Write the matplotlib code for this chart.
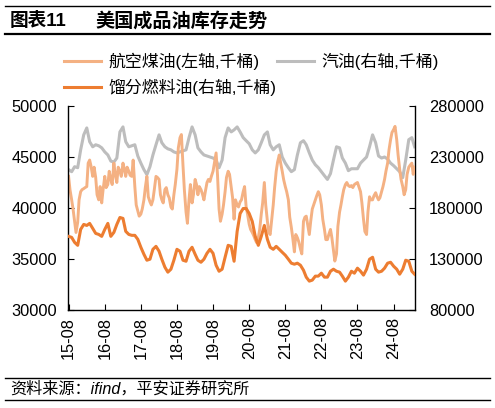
import matplotlib
matplotlib.use("Agg")
import matplotlib.pyplot as plt
import matplotlib.dates as mdates
from matplotlib.lines import Line2D
import pandas as pd

plt.rcParams['font.family'] = ['Liberation Sans', 'Noto Sans CJK SC', 'DejaVu Sans']

# jet fuel, semi-monthly readings from 2015-08 (thousand barrels, left axis, in thousands)
jet_fuel = [43.1, 41.8, 40.8, 39.9, 38.7, 37.6, 38.6, 40.8, 41.6, 41.8, 41.9, 42.0, 42.1, 44.4,
            44.7, 44.1, 43.1, 44.0, 43.0, 41.3, 40.8,
            42.1, 40.5, 41.8, 43.1, 42.0, 42.3, 43.6, 42.8, 42.3, 44.4, 43.3, 42.5, 44.0, 43.6,
            43.1, 44.4, 43.8, 43.1, 44.0, 43.6,
            43.2, 43.1, 44.7, 42.1, 40.3, 39.7, 39.2, 39.4, 39.9, 40.8, 42.0, 43.1, 41.1, 40.6,
            40.3, 40.8, 41.8, 43.1, 43.0, 42.8,
            41.3, 40.8, 40.5, 41.8, 42.0, 41.3, 41.0, 40.1, 39.9, 41.3, 42.3, 43.8, 45.9, 46.9,
            47.2, 44.2, 41.8, 39.6, 38.5, 40.8,
            42.3, 40.5, 41.3, 42.8, 42.3, 41.3, 42.1, 41.8, 41.4, 40.8, 41.6, 42.5, 42.8, 42.6,
            43.1, 43.6, 44.4, 45.4, 43.3, 39.9,
            38.7, 39.4, 40.3, 41.6, 43.0, 43.6, 43.3, 42.0, 41.0, 38.9, 40.8, 40.3, 40.1, 40.6,
            40.8, 41.6, 42.1, 40.1, 39.4, 38.4,
            37.9, 37.6, 37.3, 36.9, 36.6, 37.1, 37.9, 39.4, 40.5, 42.5, 40.3, 38.7, 37.6, 37.4,
            38.7, 40.3, 42.0, 43.6, 44.5, 45.2,
            44.4, 43.6, 42.8, 42.1, 41.6, 40.8, 39.1, 38.1, 37.1, 35.7, 37.4, 37.1, 36.7, 36.0,
            35.5, 38.7, 39.1, 39.2, 38.4, 37.4,
            38.7, 39.9, 40.3, 40.8, 41.2, 41.6, 41.3, 40.3, 38.9, 37.9, 36.9, 36.9, 37.4, 37.9,
            37.1, 35.9, 34.8, 35.5, 38.2, 39.6,
            40.3, 41.1, 41.8, 42.3, 42.5, 42.2, 42.1, 42.2, 42.0, 42.3, 42.4, 42.5, 42.1, 41.6,
            40.5, 38.9, 37.7, 37.4, 39.6, 41.1,
            40.8, 40.8, 41.2, 41.5, 41.1, 40.8, 41.0, 41.6, 42.1, 42.8, 43.6, 44.4, 45.7, 46.7,
            47.4, 47.7, 48.0, 46.7, 45.2, 43.8,
            42.8, 42.1, 41.3, 41.8, 43.3, 44.0, 44.2, 44.4, 43.3, 44.0]

# gasoline and distillate, monthly readings from 2015-08 (thousand barrels, right axis, in thousands)
gasoline = [217.6, 215.6, 220.5, 219.5, 237.0, 251.7, 258.5, 245.0, 240.0, 242.0,
            241.0, 239.0, 235.0, 232.0, 226.0, 225.0, 229.0, 254.6, 259.5, 245.0,
            240.0, 241.0, 242.0, 231.0, 224.0, 217.6, 212.7, 220.5, 232.0, 242.0,
            251.7, 244.0, 240.0, 238.0, 237.0, 235.0, 234.0, 235.0, 236.0, 237.0,
            249.0, 259.5, 251.7, 239.0, 235.0, 232.0, 231.0, 230.0, 229.0, 227.0,
            219.5, 227.0, 249.0, 258.5, 254.6, 256.6, 259.5, 254.6, 249.0, 246.0,
            243.0, 237.0, 234.0, 237.0, 244.0, 251.7, 254.6, 242.0, 237.0, 240.0,
            242.0, 230.0, 224.0, 219.5, 215.6, 217.6, 232.0, 244.0, 246.0, 242.0,
            234.0, 227.0, 222.4, 219.5, 215.6, 211.7, 208.0, 213.7, 227.0, 240.0,
            239.0, 229.0, 224.0, 216.6, 218.5, 218.5, 218.5, 224.0, 227.0, 230.0,
            240.0, 251.7, 244.0, 231.0, 229.0, 230.0, 228.0, 224.0, 221.5, 218.5,
            215.6, 209.8, 227.0, 247.0, 249.0, 240.0]

distillate = [152.2, 151.2, 146.3, 143.4, 159.0, 163.9, 162.9, 164.9, 160.0, 155.1,
              154.1, 152.2, 159.0, 164.9, 152.2, 156.1, 163.9, 170.7, 169.8, 157.1,
              154.1, 153.2, 153.2, 149.3, 141.5, 134.6, 128.8, 129.8, 139.5, 142.4,
              137.6, 129.8, 122.0, 117.1, 120.0, 128.8, 139.5, 137.6, 128.8, 127.8,
              137.6, 141.5, 134.6, 128.8, 126.8, 129.8, 135.6, 139.5, 135.6, 123.9,
              118.0, 120.0, 131.7, 143.4, 142.4, 127.8, 157.1, 174.6, 179.5, 179.5,
              174.6, 166.8, 152.2, 143.4, 152.2, 162.9, 149.3, 141.5, 139.5, 142.4,
              139.5, 136.6, 133.7, 129.8, 125.9, 124.9, 125.9, 123.9, 119.0, 112.2,
              108.3, 109.3, 113.2, 113.2, 116.1, 112.2, 112.2, 118.0, 120.0, 118.0,
              117.1, 113.2, 108.3, 112.2, 118.0, 116.1, 121.0, 118.0, 114.2, 120.0,
              129.8, 131.7, 120.0, 117.1, 118.0, 121.0, 125.9, 126.8, 122.9, 120.0,
              115.1, 120.0, 128.8, 127.8, 118.0, 115.1]

labels = ['航空煤油(左轴,千桶)', '汽油(右轴,千桶)', '馏分燃料油(右轴,千桶)']
colors = ['#F4B183', '#BDBDBD', '#ED7D31']
tick_years = list(range(2015, 2025))

jet_dates = pd.date_range('2015-08-01', periods=len(jet_fuel), freq='SMS')
months = pd.date_range('2015-08-01', periods=len(gasoline), freq='MS')
jet_k = [v * 1000 for v in jet_fuel]
gas_k = [v * 1000 for v in gasoline]
dist_k = [v * 1000 for v in distillate]

W, H = 495, 408
fig = plt.figure(figsize=(W / 100, H / 100), dpi=100)

rect = [68 / W, 1 - 310 / H, (415 - 68) / W, (310 - 106) / H]
ax_g = fig.add_axes(rect)          # gasoline (right scale), bottom layer
ax_j = ax_g.twinx()                # jet fuel (left scale)
ax_d = ax_g.twinx()                # distillate (right scale), top layer

ax_g.plot(months, gas_k, color=colors[1], lw=2.2)
ax_j.plot(jet_dates, jet_k, color=colors[0], lw=2.1)
ax_d.plot(months, dist_k, color=colors[2], lw=2.2)

for a in (ax_g, ax_d):
    a.set_ylim(80000, 280000)
ax_j.set_ylim(30000, 50000)
ax_g.set_xlim(pd.Timestamp('2015-07-26'), pd.Timestamp('2025-03-05'))

fs = 11.8
ax_j.yaxis.tick_left()
ax_j.set_yticks(range(30000, 50001, 5000))
ax_j.tick_params(axis='y', direction='in', length=4, labelsize=fs, pad=8)

ax_g.yaxis.tick_right()
ax_g.set_yticks(range(80000, 280001, 50000))
ax_g.tick_params(axis='y', direction='in', length=4, labelsize=fs, pad=10)
ax_d.set_yticks([])
ax_d.tick_params(axis='y', right=False, labelright=False)

ax_g.set_xticks([pd.Timestamp(f'{y}-08-01') for y in tick_years])
ax_g.xaxis.set_major_formatter(mdates.DateFormatter('%y-%m'))
ax_g.tick_params(axis='x', direction='in', length=4, labelsize=fs, rotation=90, pad=5)

for a in (ax_g, ax_j, ax_d):
    for s in a.spines.values():
        s.set_visible(False)
        s.set_linewidth(1.0)
        s.set_color('black')
ax_g.spines['bottom'].set_visible(True)
ax_g.spines['right'].set_visible(True)
ax_j.spines['left'].set_visible(True)
ax_j.patch.set_visible(False)
ax_d.patch.set_visible(False)

# title and rules
fig.add_artist(Line2D([5 / W, 490 / W], [1 - 6 / H, 1 - 6 / H], color='black', lw=1.0))
fig.text(10 / W, 1 - 21 / H, '图表11', fontsize=13.4, fontweight='bold', va='center', ha='left')
fig.text(95 / W, 1 - 21 / H, '美国成品油库存走势', fontsize=13.8, fontweight='bold',
         va='center', ha='left')
fig.add_artist(Line2D([5 / W, 490 / W], [1 - 34 / H, 1 - 34 / H], color='black', lw=1.6))

# legend
handles = [Line2D([], [], color=colors[0], lw=2.2),
           Line2D([], [], color=colors[2], lw=2.2),
           Line2D([], [], color=colors[1], lw=2.2)]
leg_labels = [labels[0], labels[2], labels[1]]
fig.legend(handles, leg_labels, ncol=2, loc='upper left',
           bbox_to_anchor=(64 / W, 1 - 53 / H), frameon=False, fontsize=12.2,
           handlelength=2.2, handletextpad=0.45, columnspacing=0.0,
           labelspacing=0.5, borderpad=0, borderaxespad=0)

# footer
fig.add_artist(Line2D([5 / W, 490 / W], [1 - 378 / H, 1 - 378 / H], color='black', lw=1.0))
fig.text(10 / W, 1 - 389 / H, '资料来源：ifind，平安证券研究所', fontsize=11.6, style='italic',
         va='center', ha='left')
fig.add_artist(Line2D([5 / W, 490 / W], [1 - 400 / H, 1 - 400 / H], color='black', lw=1.0))

fig.savefig('out.png', dpi=100)
